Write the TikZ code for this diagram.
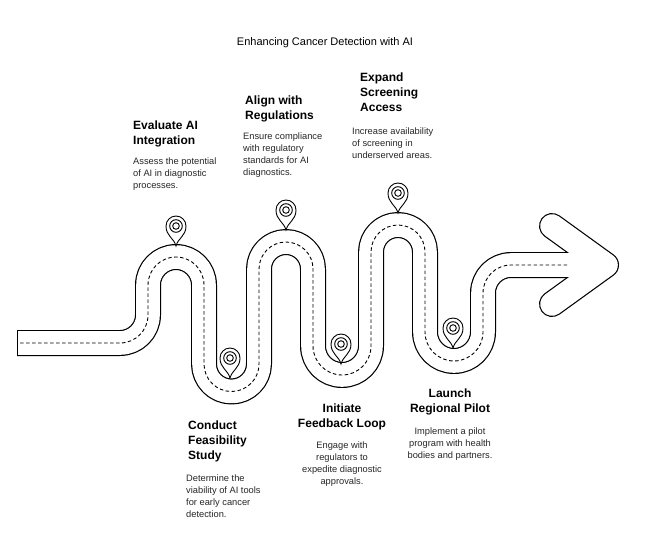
\documentclass[tikz,border=0pt]{standalone}
\usepackage{fontspec}
\setmainfont{Liberation Sans}
\begin{document}
\begin{tikzpicture}[x=1pt,y=-1pt,
  ttl/.style={font=\bfseries\fontsize{12}{15}\selectfont,inner sep=0pt},
  dsc/.style={font=\fontsize{9.3}{12}\selectfont,text=black!85,inner sep=0pt},
  roadout/.style={line width=26pt,black,line join=round,line cap=butt},
  roadin/.style={line width=23.6pt,white,line join=round,line cap=butt},
  mid/.style={line width=0.9pt,dash pattern=on 3.5pt off 2.5pt},
  pinstyle/.style={draw=black,fill=white,line width=0.9pt}]
\useasboundingbox (0,0) rectangle (650,554);
\def\roadbody{-- (120,343) arc[start angle=90,end angle=0,radius=28] -- (148,285)
  arc[start angle=180,end angle=360,radius=28] -- (204,364)
  arc[start angle=180,end angle=0,radius=27.5] -- (259,269)
  arc[start angle=180,end angle=360,radius=27] -- (313,346)
  arc[start angle=180,end angle=0,radius=29] -- (371,252)
  arc[start angle=180,end angle=360,radius=27] -- (425,332)
  arc[start angle=180,end angle=0,radius=29] -- (483,293)
  arc[start angle=180,end angle=270,radius=28]}
\def\chev{(552,226) -- (606,265) -- (552,304)}
\draw[roadout] (17,343) \roadbody -- (567,265);
\draw[roadout,line cap=round] \chev;
\draw[roadin] (14,343) \roadbody -- (595,265);
\draw[roadin,line cap=round] \chev;
\fill[white] (10,328) rectangle (17,358);
\draw[line width=1.2pt] (17.6,330.2) -- (17.6,355.8);
\draw[mid] (20,343) \roadbody -- (567,265);
% pins
\foreach \n/\px/\py in {p1/176/226,p2/286/210,p3/398/193,p4/230/358,p5/341/344,p6/453/328}{
  \coordinate (\n) at (\px,\py);
  \draw[pinstyle] (\px,\py+20) .. controls (\px-2,\py+12) and (\px-10,\py+10) .. (\px-10,\py)
     arc[start angle=180,end angle=360,radius=10] .. controls (\px+10,\py+10) and (\px+2,\py+12) .. cycle;
  \draw[line width=0.9pt] (\n) circle[radius=6.3];
  \draw[line width=0.9pt] (\n) circle[radius=3.3];
}
\node[font=\fontsize{11}{13}\selectfont] (title) at (325,43) {Enhancing Cancer Detection with AI};
\node[ttl,anchor=north west,align=left] (t1) at (133,121) {Evaluate AI\\Integration};
\node[dsc,anchor=north west,align=left] (d1) at (133,158) {Assess the potential\\of AI in diagnostic\\processes.};
\node[ttl,anchor=north west,align=left] (t2) at (245,96) {Align with\\Regulations};
\node[dsc,anchor=north west,align=left] (d2) at (243,133) {Ensure compliance\\with regulatory\\standards for AI\\diagnostics.};
\node[ttl,anchor=north west,align=left] (t3) at (360,73) {Expand\\Screening\\Access};
\node[dsc,anchor=north west,align=left] (d3) at (352,128) {Increase availability\\of screening in\\underserved areas.};
\node[ttl,anchor=north west,align=left] (t4) at (188,421) {Conduct\\Feasibility\\Study};
\node[dsc,anchor=north west,align=left] (d4) at (186,475) {Determine the\\viability of AI tools\\for early cancer\\detection.};
\node[ttl,anchor=north,align=center] (t5) at (342,404) {Initiate\\Feedback Loop};
\node[dsc,anchor=north,align=center] (d5) at (342,442) {Engage with\\regulators to\\expedite diagnostic\\approvals.};
\node[ttl,anchor=north,align=center] (t6) at (450,389) {Launch\\Regional Pilot};
\node[dsc,anchor=north,align=center] (d6) at (450,428) {Implement a pilot\\program with health\\bodies and partners.};
\end{tikzpicture}
\end{document}
